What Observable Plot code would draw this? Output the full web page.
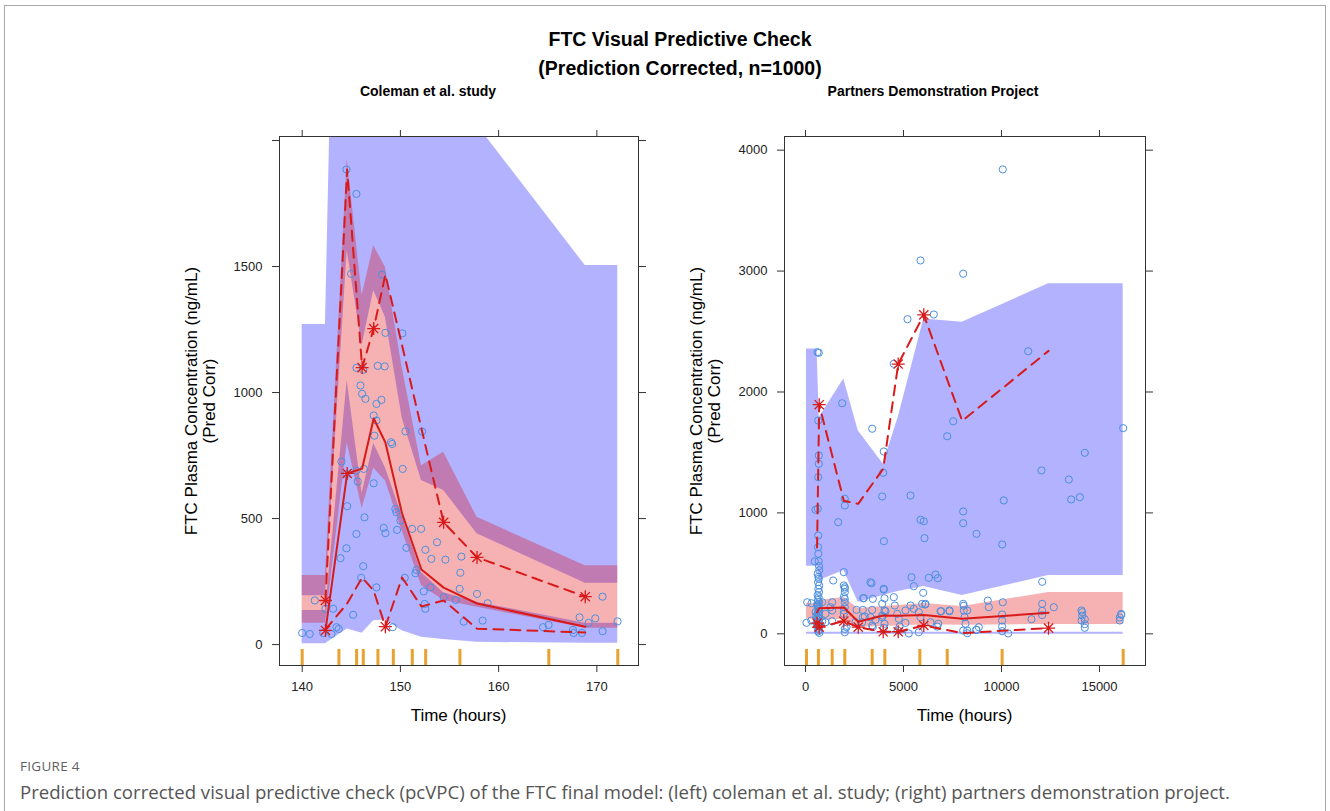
<!DOCTYPE html>
<html><head><meta charset="utf-8">
<script src="https://cdn.jsdelivr.net/npm/d3@7"></script>
<script src="https://cdn.jsdelivr.net/npm/@observablehq/plot@0.6"></script>
<style>
html,body{margin:0;padding:0;background:#fff;}
#fig{position:relative;width:1330px;height:811px;overflow:hidden;font-family:"Liberation Sans",Arial,Helvetica,sans-serif;color:#000;background:#fff;}
.c{position:absolute;transform:translate(-50%,-50%);line-height:1;white-space:nowrap;}
.r{position:absolute;transform:translate(-50%,-50%) rotate(-90deg);line-height:18px;white-space:nowrap;text-align:center;font-size:17px;}
.l{position:absolute;line-height:1;white-space:nowrap;transform:translateY(-50%);}
.title{font-weight:bold;font-size:19.5px;}
.strip{font-weight:bold;font-size:14px;}
.xt{font-size:17px;}
.bl{position:absolute;background:#a8a8a8;}
.plot{position:absolute;}
</style></head>
<body><div id="fig">
<div class="bl" style="left:4px;top:5px;width:1322px;height:1px;"></div>
<div class="bl" style="left:4px;top:5px;width:1px;height:806px;"></div>
<div class="bl" style="left:1325px;top:5px;width:1px;height:806px;"></div>
<div class="c title" style="left:680px;top:40px;">FTC Visual Predictive Check</div>
<div class="c title" style="left:680px;top:69px;">(Prediction Corrected, n=1000)</div>
<div class="c strip" style="left:428px;top:91px;">Coleman et al. study</div>
<div class="c strip" style="left:933px;top:91px;">Partners Demonstration Project</div>
<div class="r" style="left:201px;top:401px;">FTC Plasma Concentration (ng/mL)<br>(Pred Corr)</div>
<div class="r" style="left:706px;top:401px;">FTC Plasma Concentration (ng/mL)<br>(Pred Corr)</div>
<div class="c xt" style="left:458.5px;top:715px;">Time (hours)</div>
<div class="c xt" style="left:964.5px;top:715px;">Time (hours)</div>
<div class="l" style="left:20px;top:767px;font-family:'Open Sans',sans-serif;font-size:13.5px;color:#5f5f5f;letter-spacing:0.3px;">FIGURE 4</div>
<div class="l" style="left:20px;top:792px;font-family:'Open Sans',sans-serif;font-size:18.6px;color:#555;">Prediction corrected visual predictive check (pcVPC) of the FTC final model: (left) coleman et al. study; (right) partners demonstration project.</div>
<div id="left" class="plot" style="left:170px;top:110px;"></div>
<div id="right" class="plot" style="left:675px;top:110px;"></div>
</div>
<script>
// ---------- Coleman et al. study ----------
const colRug = [140, 143.74, 145.54, 146.22, 147.71, 149.28, 151.21, 152.57, 156.06, 165.11, 172.13];
const colBinTime = [142.37, 144.58, 146.10, 147.28, 148.47, 150.17, 152.14, 154.40, 157.80, 168.82];
const colP95Lo = [194, 1563, 1187, 1405, 1299, 900, 651, 611, 440, 243];
const colP95Hi = [1270, 5200, 5000, 4800, 4500, 4000, 3300, 2700, 2062, 1504];
const colMedLo = [85, 800, 540, 700, 650, 452, 234, 175, 148, 65];
const colMedHi = [274, 1928, 1385, 1583, 1497, 1100, 710, 763, 505, 313];
const colP5Lo = [3, 62, 45, 95, 98, 55, 29, 20, 9, 5];
const colP5Hi = [135, 1048, 600, 798, 702, 512, 286, 206, 168, 85];
const colObsP95 = [175, 1885, 1099, 1254, 1468, 1187, 857, 485, 346, 190];
const colObsMed = [56, 679, 698, 897, 802, 520, 298, 226, 163, 71];
const colObsP5 = [60, 163, 266, 214, 71, 266, 151, 175, 63, 48];
const colObs = [[140.0,46],[140.77,42],[141.28,175],[142.14,46],[142.37,142],[143.15,142],[142.98,42],[143.49,69],[143.72,62],[145.19,118],
[144.0,726],[144.51,677],[144.58,549],[144.51,382],[143.90,343],[145.52,690],[145.66,647],[146.27,697],[146.34,505],[145.52,439],
[146.21,311],[146.0,265],[145.93,1028],[146.10,995],[146.44,975],[147.56,955],[148.07,971],[147.28,909],[147.56,889],[147.35,829],
[147.28,640],[147.56,227],[149.05,803],[149.16,796],[150.51,846],[152.21,845],[150.23,697],[149.49,538],[149.59,525],[150.0,492],
[148.30,463],[148.47,442],[149.66,455],[151.19,459],[152.11,459],[150.61,384],[153.73,406],[152.54,376],[153.15,340],[154.58,337],
[156.21,349],[156.10,285],[151.63,296],[151.53,283],[150.44,265],[152.37,211],[153.05,227],[152.47,161],[152.54,142],[154.40,188],
[155.63,177],[156.03,221],[157.80,201],[158.88,164],[156.44,91],[158.37,95],[164.52,69],[165.09,78],[167.57,58],[167.63,46],
[168.48,46],[168.24,108],[169.16,86],[169.84,104],[170.58,53],[170.58,190],[172.11,92],[149.22,69],[144.51,1885],[145.52,1788],
[144.98,1471],[148.14,1468],[148.47,1237],[150.20,1235],[145.52,1098],[146.21,1090],[147.69,1106],[148.40,1104]];
const colXTicks = [140, 150, 160, 170];
const colYTicks = [0, 500, 1000, 1500, 2000];
const colYLabelled = [0, 500, 1000, 1500];

// ---------- Partners Demonstration Project ----------
const pdpRug = [51, 660, 1362, 2005, 3403, 4048, 5834, 7232, 10032, 16209];
const pdpBinTime = [590, 700, 1955, 2690, 3965, 4730, 6036, 7995, 12400];
const pdpP95Lo = [558, 441, 524, 262, 317, 350, 391, 317, 482];
const pdpP95Hi = [2355, 1790, 2107, 1680, 1404, 1790, 2603, 2576, 2895];
const pdpMedLo = [120, 115, 120, 55, 60, 65, 75, 70, 78];
const pdpMedHi = [250, 275, 300, 209, 226, 234, 250, 226, 342];
const pdpP5Lo = [-4, -4, -4, -4, -4, -4, -4, -4, -4];
const pdpP5Hi = [13, 13, 13, 13, 13, 13, 13, 13, 13];
const pdpObsP95 = [714, 1895, 1100, 1075, 1365, 2231, 2638, 1761, 2340];
const pdpObsMed = [178, 212, 218, 100, 151, 150, 155, 124, 174];
const pdpObsP5 = [88, 55, 105, 55, 17, 17, 69, 6, 47];
const pdpObs = [[10066,3841],[5867,3088],[8046,2978],[6546,2641],[5204,2602],[679,2324],[612,2329],[4505,2233],[11362,2337],
[648,1764],[1872,1907],[3403,1696],[3995,1508],[3964,1332],[2005,1117],[2005,1061],[3913,1136],[5357,1144],[7229,1634],[7535,1758],
[16209,1701],[14250,1497],[12041,1351],[13434,1276],[13556,1111],[13995,1130],[10117,1103],[5867,943],[6036,931],[8046,1012],
[8046,915],[6071,791],[8725,827],[10036,739],[4000,766],[1668,923],[1954,510],[628,1034],[648,813],[679,1406],[679,1475],[648,1295],
[5408,468],[5525,394],[6291,463],[6633,490],[6750,460],[3316,427],[3995,366],[1413,441],[12076,430],[6005,339],[9301,275],[10066,261],
[12668,220],[12076,248],[14117,179],[14117,151],[16107,157],[16036,110],[14250,50],[14082,110],[10032,110],[10032,22],[10342,3],
[11530,121],[8046,27],[8250,5],[8725,33],[7347,193],[6923,187],[8077,232],[8250,193],[5781,13],[6719,60],[6107,242],[4505,303],
[4556,234],[4082,187],[3913,151],[3571,116],[3403,69],[3026,143],[2602,198],[2944,294],[2005,385],[2005,289],[1954,193],[2092,55],
[2005,13],[1276,220],[1362,104],[852,104],[87,261],[51,91],[306,253],[474,600],[510,1026],
[1954,400],[2005,372],[2005,344],[1954,303],[2005,261],[2005,220],[1954,165],[2005,41],[3367,418],[2975,295],[3434,289],[2924,198],
[3403,198],[3316,137],[2924,137],[3995,372],[4031,294],[3913,248],[4031,193],[3913,137],[4031,83],[4679,165],[4760,124],[5102,193],
[5357,234],[5525,207],[5781,179],[5953,248],[6122,248],[5867,137],[6378,96],[6770,83],[6888,187],[7347,187],[8046,248],[8077,193],
[8112,137],[8163,83],[8250,27],[8709,33],[8842,55],[2551,96],[2893,96],[3434,55],[5270,3],[1362,193],[1362,261],[852,261],[1020,165],
[1020,96],[9352,220],[16107,165],[14082,193],[12076,190],[12076,155],[16036,135],[14250,120],[14250,80],[10032,160],[10032,60],
[4000,50],[4800,60],[4700,30],[5100,90],
[640,716],[655,662],[672,600],[690,560],[700,526],[620,496],[660,470],[680,455],[640,427],[700,400],[655,372],[690,345],[620,320],
[672,303],[640,280],[700,262],[660,245],[620,230],[690,215],[650,200],[700,185],[630,170],[680,155],[640,140],[700,125],[660,110],
[620,95],[690,82],[650,70],[700,58],[630,45],[680,32],[640,20],[700,8],[560,150],[520,180],[590,240],[560,90],[300,110]];
const pdpXTicks = [0, 5000, 10000, 15000];
const pdpYTicks = [0, 1000, 2000, 3000, 4000];
const pdpYLabelled = [0, 1000, 2000, 3000, 4000];

// ---------- drawing ----------
const RED = "#d81a1a";
const star8 = {
  draw(ctx, size) {
    const r = Math.sqrt(size / Math.PI), d = r * Math.SQRT1_2;
    ctx.moveTo(-r, 0); ctx.lineTo(r, 0);
    ctx.moveTo(0, -r); ctx.lineTo(0, r);
    ctx.moveTo(-d, -d); ctx.lineTo(d, d);
    ctx.moveTo(-d, d); ctx.lineTo(d, -d);
  }
};

function band(rug, t, lo, hi) {
  const n = t.length;
  const xs = [rug[0], ...t, rug[rug.length - 1]];
  const l = [lo[0], ...lo, lo[n - 1]];
  const h = [hi[0], ...hi, hi[n - 1]];
  return xs.map((x, i) => ({x, lo: l[i], hi: h[i]}));
}

function vpc(p) {
  const bins = p.binT.map((t, i) => ({t, p95: p.obsP95[i], med: p.obsMed[i], p5: p.obsP5[i],
    p95lo: p.p95Lo[i], p95hi: p.p95Hi[i], medlo: p.medLo[i], medhi: p.medHi[i], p5lo: p.p5Lo[i], p5hi: p.p5Hi[i]}));
  const outside = [];
  for (const b of bins) {
    if (b.p95 < b.p95lo || b.p95 > b.p95hi) outside.push({t: b.t, v: b.p95});
    if (b.med < b.medlo || b.med > b.medhi) outside.push({t: b.t, v: b.med});
    if (b.p5 < b.p5lo || b.p5 > b.p5hi) outside.push({t: b.t, v: b.p5});
  }
  const W = 500, H = 620;
  return Plot.plot({
    width: W, height: H,
    marginLeft: p.ml, marginRight: p.mr, marginTop: 26, marginBottom: 65,
    style: {fontFamily: "'Liberation Sans', Arial, Helvetica, sans-serif", fontSize: "13px", color: "#222", background: "transparent", overflow: "visible"},
    x: {domain: p.xDomain, axis: null},
    y: {domain: p.yDomain, axis: null},
    marks: [
      Plot.areaY(band(p.rug, p.binT, p.p95Lo, p.p95Hi), {x: "x", y1: "lo", y2: "hi", fill: "blue", fillOpacity: 0.3, clip: true}),
      Plot.areaY(band(p.rug, p.binT, p.p5Lo, p.p5Hi), {x: "x", y1: "lo", y2: "hi", fill: "blue", fillOpacity: 0.3, clip: true}),
      Plot.areaY(band(p.rug, p.binT, p.medLo, p.medHi), {x: "x", y1: "lo", y2: "hi", fill: "#e00000", fillOpacity: 0.3, clip: true}),
      Plot.dot(p.obs, {x: d => d[0], y: d => d[1], r: 3.6, stroke: "#4a8fe0", strokeWidth: 1, fill: "none", clip: true}),
      Plot.line(bins, {x: "t", y: "med", stroke: RED, strokeWidth: 2, clip: true}),
      Plot.line(bins, {x: "t", y: "p95", stroke: RED, strokeWidth: 2, strokeDasharray: "10,7", clip: true}),
      Plot.line(bins, {x: "t", y: "p5", stroke: RED, strokeWidth: 2, strokeDasharray: "10,7", clip: true}),
      Plot.dot(outside, {x: "t", y: "v", symbol: star8, r: 6.5, stroke: RED, strokeWidth: 1.3, fill: "none"}),
      Plot.tickX(p.rug, {x: d => d, stroke: "#e9a22f", strokeWidth: 3, insetTop: 529 - 16}),
      Plot.frame({stroke: "#333"}),
      Plot.axisX(p.xTicks, {anchor: "bottom", tickSize: 7, tickPadding: 9, label: null, fontSize: 13, tickFormat: d => String(d), stroke: "#333"}),
      Plot.axisX(p.xTicks, {anchor: "top", tickSize: 7, label: null, tickFormat: () => "", stroke: "#333"}),
      Plot.axisY(p.yTicks, {anchor: "left", tickSize: 7, tickPadding: 10, label: null, fontSize: 13, tickFormat: d => p.yLab.includes(d) ? String(d) : "", stroke: "#333"}),
      Plot.axisY(p.yTicks, {anchor: "right", tickSize: 7, label: null, tickFormat: () => "", stroke: "#333"})
    ]
  });
}

document.getElementById("left").appendChild(vpc({
  rug: colRug, binT: colBinTime, p95Lo: colP95Lo, p95Hi: colP95Hi, medLo: colMedLo, medHi: colMedHi,
  p5Lo: colP5Lo, p5Hi: colP5Hi, obsP95: colObsP95, obsMed: colObsMed, obsP5: colObsP5, obs: colObs,
  xDomain: [137.69, 174.24], yDomain: [-83, 2016], xTicks: colXTicks, yTicks: colYTicks, yLab: colYLabelled,
  ml: 109, mr: 32
}));
document.getElementById("right").appendChild(vpc({
  rug: pdpRug, binT: pdpBinTime, p95Lo: pdpP95Lo, p95Hi: pdpP95Hi, medLo: pdpMedLo, medHi: pdpMedHi,
  p5Lo: pdpP5Lo, p5Hi: pdpP5Hi, obsP95: pdpObsP95, obsMed: pdpObsMed, obsP5: pdpObsP5, obs: pdpObs,
  xDomain: [-1071, 17347], yDomain: [-262, 4113], xTicks: pdpXTicks, yTicks: pdpYTicks, yLab: pdpYLabelled,
  ml: 109, mr: 30
}));
</script>
</body></html>
